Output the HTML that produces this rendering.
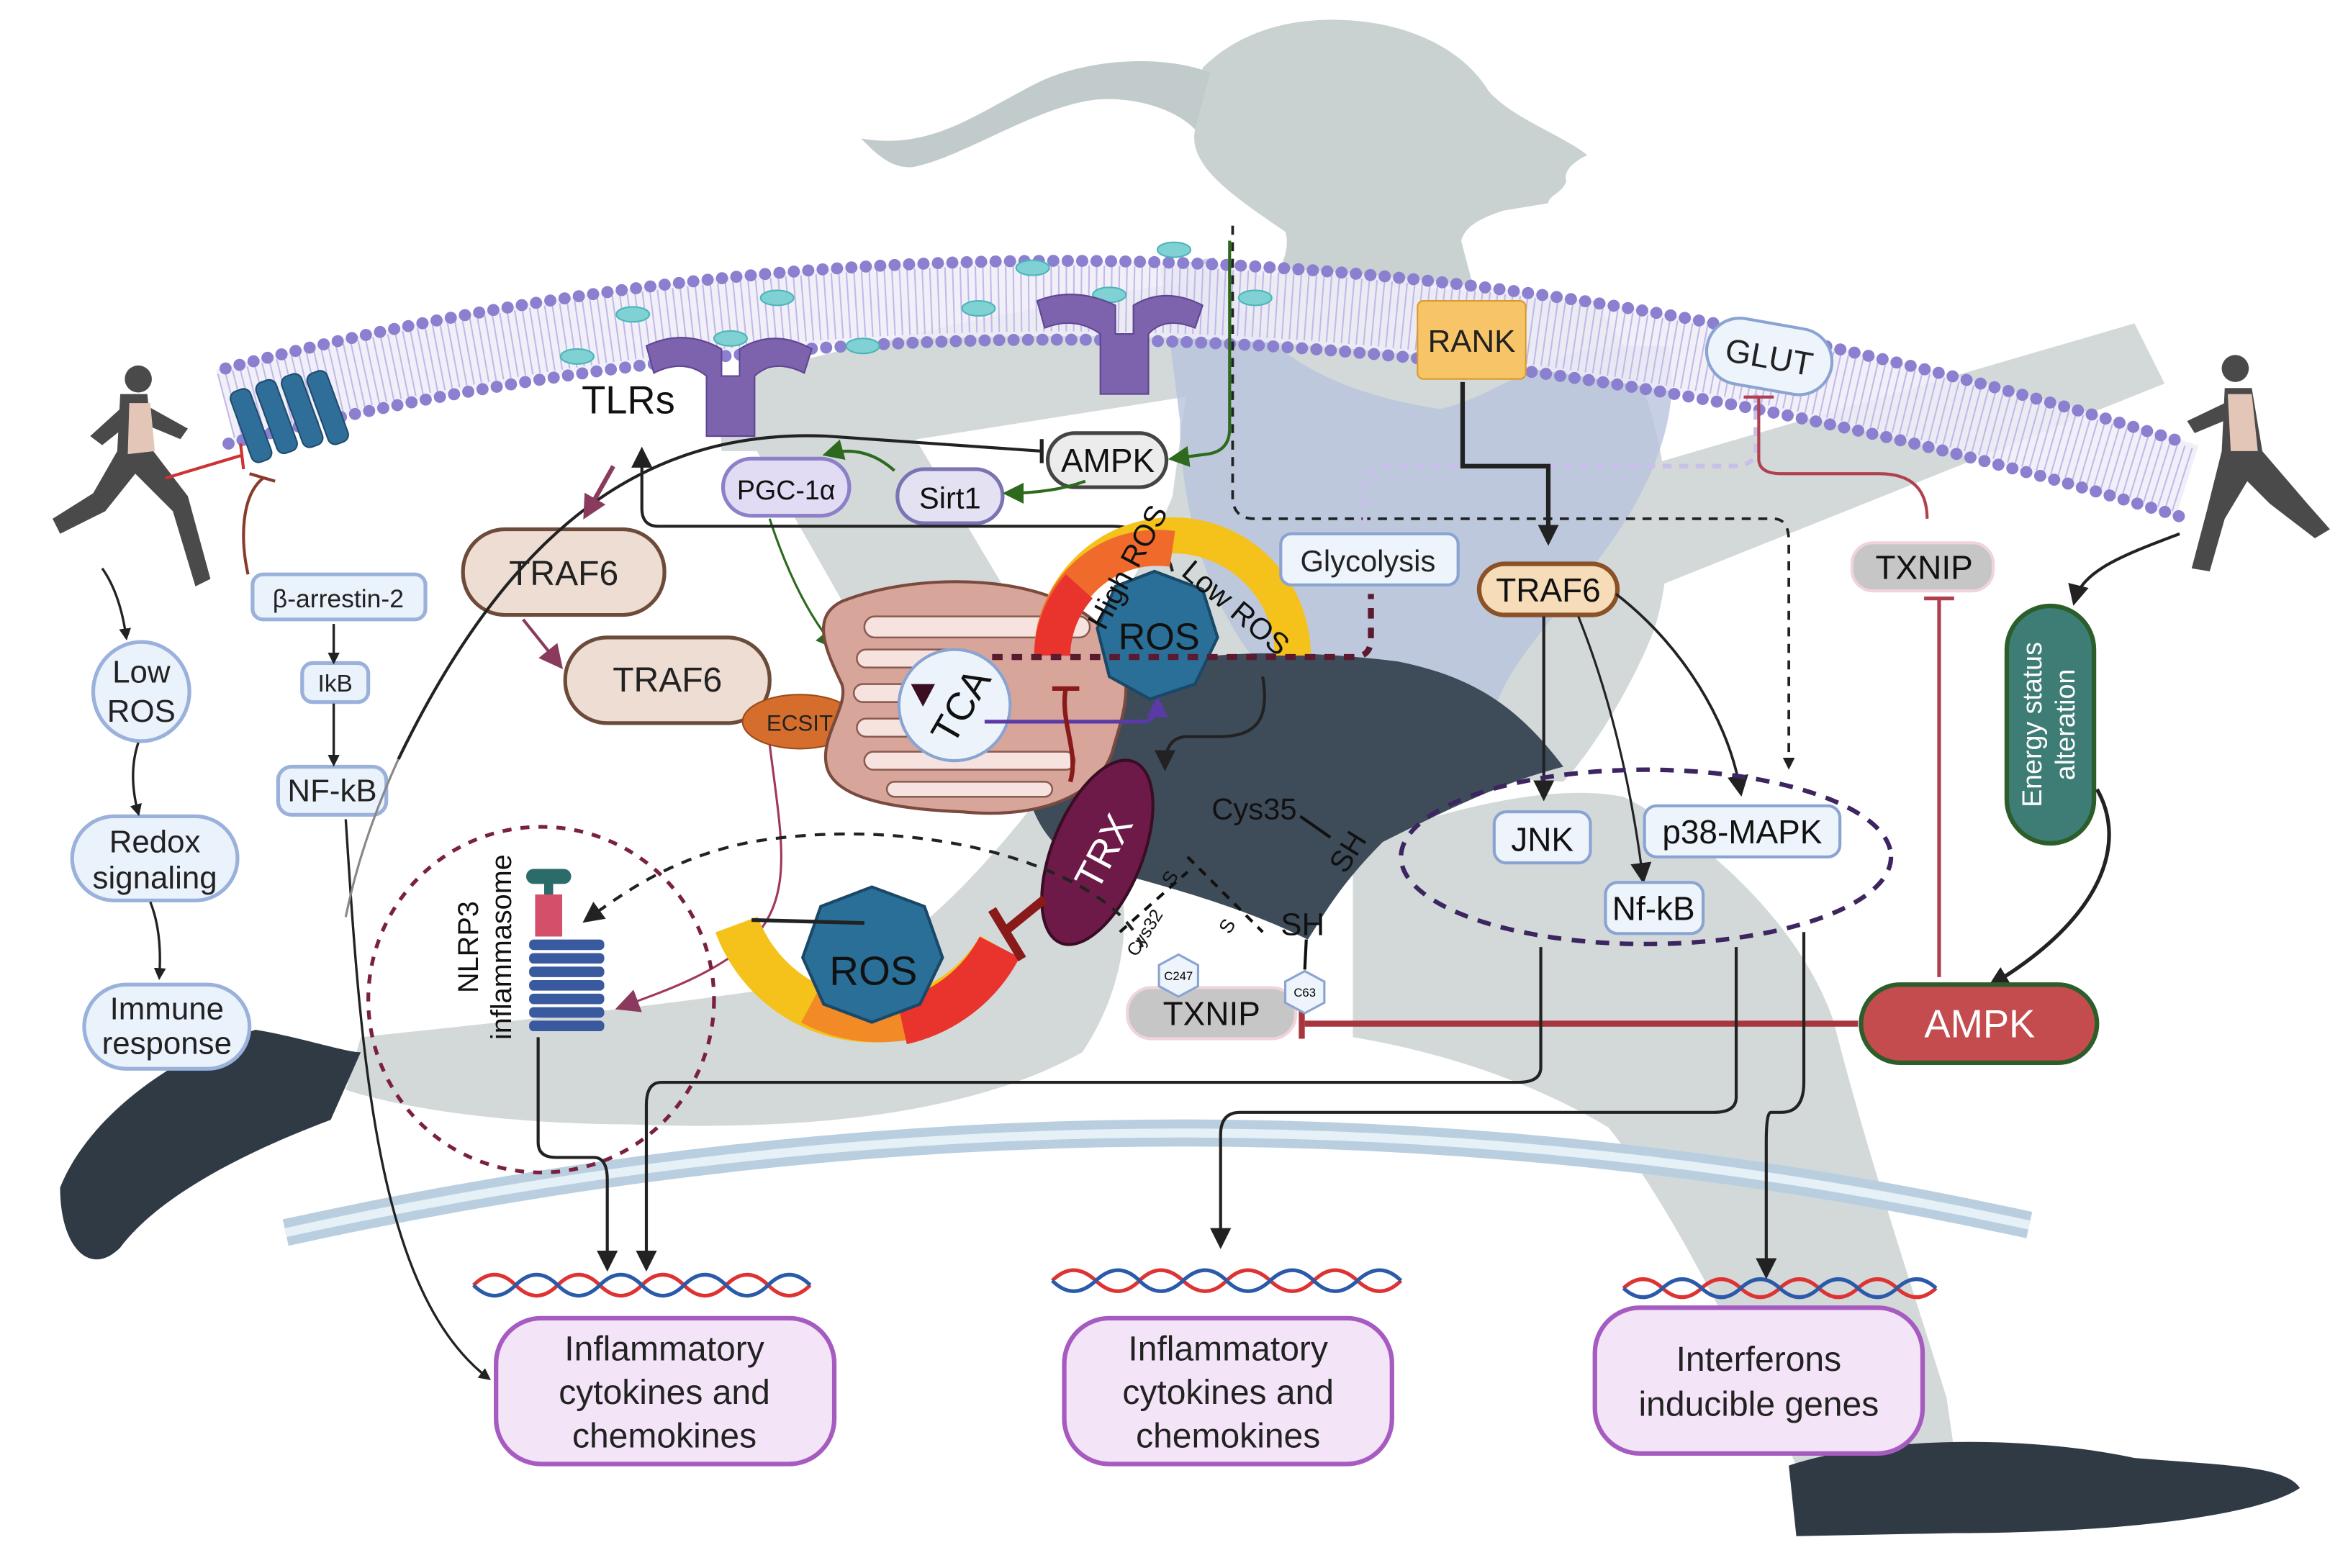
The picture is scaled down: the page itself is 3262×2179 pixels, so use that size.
<!DOCTYPE html>
<html><head><meta charset="utf-8"><style>
html,body{margin:0;padding:0;background:#fff;}
svg{display:block;}
text{font-family:"Liberation Sans",sans-serif;}
</style></head><body>
<svg width="3262" height="2179" viewBox="0 0 1562 1043" xmlns="http://www.w3.org/2000/svg">
<defs>
<marker id="ak" markerWidth="8" markerHeight="8" refX="6" refY="4" orient="auto" markerUnits="userSpaceOnUse"><path d="M0,0 L8,4 L0,8 Z" fill="#222"/></marker>
<marker id="akb" markerWidth="14" markerHeight="14" refX="11" refY="7" orient="auto" markerUnits="userSpaceOnUse"><path d="M0,0 L14,7 L0,14 Z" fill="#222"/></marker>
<marker id="ag" markerWidth="14" markerHeight="14" refX="11" refY="7" orient="auto" markerUnits="userSpaceOnUse"><path d="M0,0 L14,7 L0,14 Z" fill="#2d6a1e"/></marker>
<marker id="am" markerWidth="16" markerHeight="16" refX="12" refY="8" orient="auto" markerUnits="userSpaceOnUse"><path d="M0,0 L16,8 L0,16 Z" fill="#8a3a5c"/></marker>
<marker id="ap" markerWidth="14" markerHeight="14" refX="11" refY="7" orient="auto" markerUnits="userSpaceOnUse"><path d="M0,0 L14,7 L0,14 Z" fill="#5b3aa8"/></marker>
</defs>
<rect width="1562" height="1043" fill="#fff"/>

<!-- runner silhouette -->
<g fill="#d3d9d9">
<path d="M800,45 C820,25 850,12 890,13 C940,14 975,35 990,60 C1005,78 1040,90 1056,103 C1045,108 1040,115 1042,120 C1040,128 1030,130 1030,135 L1000,140 C985,145 975,150 972,160 L980,190 L845,190 C855,175 858,162 855,154 C820,130 790,110 795,86 C796,70 798,55 800,45 Z" fill="#c9d1d1"/>
<path d="M805,48 C770,35 720,40 690,55 C650,75 620,100 573,92 C585,105 595,112 607,111 C640,105 690,70 730,66 C760,64 785,75 795,86 Z" fill="#c1cbcb"/>
<path d="M800,180 L1060,200 C1110,260 1120,360 1100,420 C1080,470 1050,510 1040,520 L700,500 C720,440 760,380 780,330 Z"/>
<path d="M835,180 L845,255 L560,300 L480,300 L478,255 C560,230 700,200 835,180 Z"/>
<path d="M495,285 L605,285 L715,470 L620,505 Z"/>
<path d="M1060,320 L1420,215 L1440,255 L1090,395 Z"/>
<path d="M700,520 C760,560 760,640 720,700 C640,745 520,752 420,748 C340,748 270,738 230,725 L240,690 C330,680 460,668 560,650 C620,620 660,570 700,520 Z"/>
<path d="M900,560 C960,540 1030,520 1080,530 C1140,560 1200,620 1220,680 C1240,760 1270,850 1295,930 L1300,965 L1195,975 C1150,880 1110,800 1070,750 C1020,720 960,700 900,690 Z"/>
</g>
<path d="M772,178 L808,171 C830,230 880,260 958,272 C1000,262 1030,230 1080,230 L1110,230 C1120,280 1095,330 1065,370 C1035,410 1005,440 995,470 L840,445 C800,400 785,330 785,280 Z" fill="#b8c3dc" opacity="0.8"/>
<path d="M690,470 C760,430 850,430 930,440 C980,450 1010,470 1040,510 C1000,520 960,540 920,560 C890,590 880,610 870,625 C830,605 780,590 720,575 C690,560 670,520 690,470 Z" fill="#3e4c5a"/>
<path d="M40,790 C60,740 120,700 170,685 C200,690 230,700 240,700 L220,745 C180,760 110,790 80,830 C60,850 40,830 40,790 Z" fill="#2f3a44"/>
<path d="M1190,975 C1250,955 1350,955 1420,970 C1480,975 1520,975 1530,990 C1500,1010 1400,1020 1300,1020 L1195,1022 Z" fill="#2f3a44"/>

<path d="M190,820 Q780,690 1350,815" fill="none" stroke="#b9cfe0" stroke-width="18"/>
<path d="M190,820 Q780,690 1350,815" fill="none" stroke="#e6f0f7" stroke-width="6"/>

<path d="M150,270 Q780,105 1455,320" fill="none" stroke="#efedf8" stroke-width="50" opacity="0.85"/>
<path d="M150,270 Q780,105 1455,320" fill="none" stroke="#c3b9e8" stroke-width="44" stroke-dasharray="1 4"/>
<path d="M150,245 Q780,80 1455,295" fill="none" stroke="#8b7fcf" stroke-width="8" stroke-dasharray="0.1 9.5" stroke-linecap="round"/>
<path d="M152,295 Q780,135 1455,345" fill="none" stroke="#8b7fcf" stroke-width="8" stroke-dasharray="0.1 9.5" stroke-linecap="round"/>

<g fill="#7fd1d4" stroke="#4cb5b8">
<ellipse cx="421" cy="209" rx="11" ry="5"/><ellipse cx="517" cy="198" rx="11" ry="5"/><ellipse cx="687" cy="178" rx="11" ry="5"/><ellipse cx="781" cy="166" rx="11" ry="5"/><ellipse cx="384" cy="237" rx="11" ry="5"/><ellipse cx="486" cy="225" rx="11" ry="5"/><ellipse cx="574" cy="230" rx="11" ry="5"/><ellipse cx="651" cy="205" rx="11" ry="5"/><ellipse cx="738" cy="196" rx="11" ry="5"/><ellipse cx="835" cy="198" rx="11" ry="5"/>
</g>
<g fill="#7d62ad" stroke="#5e4690">
<path d="M430,230 Q455,218 480,232 L480,250 L492,250 L492,232 Q515,218 540,232 L535,248 Q515,238 502,250 L502,290 L470,290 L470,250 Q455,238 435,248 Z"/>
<path d="M690,200 Q715,190 742,203 L742,222 L754,222 L754,203 Q775,190 800,203 L795,218 Q775,210 764,222 L764,262 L732,262 L732,222 Q715,210 695,218 Z"/>
</g>
<g fill="#2f6e99" stroke="#1d4c6e"><rect x="160" y="258" width="14" height="50" rx="5" transform="rotate(-20 167 283)"/><rect x="177" y="252" width="14" height="50" rx="5" transform="rotate(-20 184 277)"/><rect x="194" y="248" width="14" height="50" rx="5" transform="rotate(-20 201 273)"/><rect x="211" y="246" width="14" height="50" rx="5" transform="rotate(-20 218 271)"/></g>

<g fill="#4a4a4a">
<circle cx="92" cy="252" r="9"/><path d="M80,262 L98,262 L102,300 L125,330 L140,385 L130,390 L115,340 L90,315 L70,340 L40,355 L35,345 L62,328 L78,300 Z"/><path d="M82,270 L60,290 L68,296 L88,280 Z M98,270 L125,285 L120,292 L96,282 Z"/>
<circle cx="1487" cy="245" r="9"/><path d="M1480,258 L1498,258 L1505,300 L1535,335 L1550,352 L1540,358 L1510,335 L1495,320 L1480,345 L1470,380 L1458,378 L1468,340 L1478,300 Z"/><path d="M1480,268 L1455,280 L1460,288 L1484,278 Z"/>
</g>
<path d="M86,268 L100,268 L103,300 L85,302 Z" fill="#e3c6b8"/>
<path d="M1482,262 L1498,262 L1502,300 L1484,300 Z" fill="#e3c6b8"/>

<rect x="943" y="200" width="72" height="52" rx="4" fill="#f7c468" stroke="#d89a2a"/>
<text x="979" y="234" font-size="21" text-anchor="middle" fill="#222">RANK</text>
<rect x="1135" y="215" width="84" height="44" rx="22" fill="#eef4fb" stroke="#8aa4d2" stroke-width="2" transform="rotate(10 1177 237)"/>
<text x="1177" y="245" font-size="22" text-anchor="middle" fill="#222" transform="rotate(10 1177 237)">GLUT</text>

<g fill="none" stroke-width="2.5">
<path d="M315,855 q14,-14 28,0 t28,0 t28,0 t28,0 t28,0 t28,0 t28,0 t28,0" stroke="#d33"/>
<path d="M315,855 q14,14 28,0 t28,0 t28,0 t28,0 t28,0 t28,0 t28,0 t28,0" stroke="#2a5aa8"/>
<path d="M700,852 q14,-14 29,0 t29,0 t29,0 t29,0 t29,0 t29,0 t29,0 t29,0" stroke="#d33"/>
<path d="M700,852 q14,14 29,0 t29,0 t29,0 t29,0 t29,0 t29,0 t29,0 t29,0" stroke="#2a5aa8"/>
<path d="M1080,857 q13,-12 26,0 t26,0 t26,0 t26,0 t26,0 t26,0 t26,0 t26,0" stroke="#d33"/>
<path d="M1080,857 q13,12 26,0 t26,0 t26,0 t26,0 t26,0 t26,0 t26,0 t26,0" stroke="#2a5aa8"/>
</g>

<g fill="#f3e4f8" stroke="#a65bc0" stroke-width="3">
<rect x="330" y="877" width="225" height="97" rx="30"/>
<rect x="708" y="877" width="218" height="97" rx="30"/>
<rect x="1061" y="870" width="218" height="97" rx="30"/>
</g>
<g font-size="23" text-anchor="middle" fill="#222">
<text x="442" y="905">Inflammatory</text><text x="442" y="934">cytokines and</text><text x="442" y="963">chemokines</text>
<text x="817" y="905">Inflammatory</text><text x="817" y="934">cytokines and</text><text x="817" y="963">chemokines</text>
<text x="1170" y="912">Interferons</text><text x="1170" y="942">inducible genes</text>
</g>

<g fill="#eaf2fb" stroke="#9ab1db" stroke-width="2.5">
<ellipse cx="94" cy="460" rx="32" ry="33"/>
<rect x="48" y="543" width="110" height="56" rx="28"/>
<rect x="56" y="655" width="110" height="56" rx="28"/>
<rect x="168" y="382" width="115" height="30" rx="7"/>
<rect x="201" y="441" width="44" height="26" rx="7"/>
<rect x="185" y="510" width="72" height="32" rx="9"/>
</g>
<g font-size="21" text-anchor="middle" fill="#222">
<text x="94" y="454">Low</text><text x="94" y="480">ROS</text>
<text x="103" y="567">Redox</text><text x="103" y="591">signaling</text>
<text x="111" y="678">Immune</text><text x="111" y="701">response</text>
<text x="225" y="404" font-size="17">β-arrestin-2</text>
<text x="223" y="460" font-size="16">IkB</text>
<text x="221" y="533" font-size="21">NF-kB</text>
</g>
<g stroke="#222" stroke-width="1.6" fill="none" marker-end="url(#ak)">
<path d="M68,378 Q80,395 84,424"/><path d="M92,494 Q85,515 92,541"/><path d="M100,600 Q108,620 106,650"/>
<path d="M222,415 L222,440"/><path d="M222,468 L222,508"/>
<path d="M230,545 C240,700 250,860 325,917"/>
</g>
<path d="M110,318 L160,303 M160,295 L162,312" stroke="#c33" stroke-width="2"/>
<path d="M165,382 C160,360 160,330 175,318 M166,315 L183,320" stroke="#8a3a2a" stroke-width="2" fill="none"/>

<text x="418" y="275" font-size="26" fill="#111" text-anchor="middle">TLRs</text>
<rect x="697" y="288" width="79" height="36" rx="18" fill="#ececec" stroke="#444" stroke-width="2.5"/>
<text x="737" y="314" font-size="22" text-anchor="middle" fill="#111">AMPK</text>
<rect x="597" y="312" width="70" height="36" rx="18" fill="#e3e1f2" stroke="#7a74b3" stroke-width="2.5"/>
<text x="632" y="338" font-size="20" text-anchor="middle" fill="#111">Sirt1</text>
<rect x="481" y="305" width="84" height="38" rx="19" fill="#e1dcf4" stroke="#8c80c8" stroke-width="2.5"/>
<text x="523" y="332" font-size="18" text-anchor="middle" fill="#111">PGC-1α</text>
<rect x="308" y="352" width="134" height="57" rx="28" fill="#eeddd3" stroke="#6d4b3a" stroke-width="2.5"/>
<text x="375" y="389" font-size="23" text-anchor="middle" fill="#222">TRAF6</text>
<rect x="376" y="424" width="136" height="57" rx="28" fill="#eeddd3" stroke="#6d4b3a" stroke-width="2.5"/>
<text x="444" y="460" font-size="23" text-anchor="middle" fill="#222">TRAF6</text>
<ellipse cx="532" cy="480" rx="38" ry="18" fill="#d56e2c" stroke="#9b4a18"/>
<text x="532" y="486" font-size="15" text-anchor="middle" fill="#222">ECSIT</text>

<path d="M818,160 L818,285 Q818,300 803,302 L780,305" stroke="#2d6a1e" stroke-width="2" fill="none" marker-end="url(#ag)"/>
<path d="M820,150 L820,330 Q820,345 835,345 L1180,345 Q1190,345 1190,360 L1190,510" stroke="#222" stroke-width="1.8" stroke-dasharray="6 5" fill="none" marker-end="url(#ak)"/>
<path d="M722,320 Q700,328 670,328" stroke="#2d6a1e" stroke-width="2" fill="none" marker-end="url(#ag)"/>
<path d="M595,313 Q575,295 550,302" stroke="#2d6a1e" stroke-width="2" fill="none" marker-end="url(#ag)"/>
<path d="M512,345 Q530,400 555,430" stroke="#2d6a1e" stroke-width="1.5" fill="none" marker-end="url(#ag)"/>
<path d="M693,300 L550,290 C430,285 340,350 265,505" stroke="#222" stroke-width="2" fill="none"/>
<path d="M693,292 L693,308" stroke="#222" stroke-width="2.5"/>
<path d="M265,505 C240,560 232,600 230,610" stroke="#888" stroke-width="1.5" fill="none"/>
<path d="M780,380 C775,360 760,350 740,350 L438,350 Q427,350 427,338 L427,300" stroke="#222" stroke-width="2" fill="none" marker-end="url(#akb)"/>
<path d="M408,310 L390,342" stroke="#8a3a5c" stroke-width="3" marker-end="url(#am)"/>
<path d="M348,412 L372,442" stroke="#8a3a5c" stroke-width="2" marker-end="url(#am)"/>
<path d="M512,495 C520,560 530,600 495,630 C470,650 440,660 413,670" stroke="#a0385c" stroke-width="1.5" fill="none" marker-end="url(#am)"/>

<path d="M560,400 C610,380 700,380 735,420 C760,450 745,480 740,500 C730,530 690,545 640,540 C590,538 555,530 550,510 C545,490 565,470 560,455 C548,430 540,410 560,400 Z" fill="#d7a59a" stroke="#7a4a3e" stroke-width="2"/>
<g fill="#f6e3df" stroke="#8a5a4e" stroke-width="1.2">
<rect x="575" y="410" width="150" height="14" rx="7"/><rect x="570" y="432" width="70" height="12" rx="6"/><rect x="568" y="455" width="60" height="12" rx="6"/><rect x="570" y="478" width="65" height="12" rx="6"/><rect x="575" y="500" width="140" height="12" rx="6"/><rect x="590" y="520" width="110" height="10" rx="5"/>
</g>
<circle cx="635" cy="469" r="37" fill="#edf3fb" stroke="#8aa4d2" stroke-width="2"/>
<text x="640" y="478" font-size="26" text-anchor="middle" fill="#111" transform="rotate(-60 640 470)">TCA</text>
<path d="M606,455 L622,455 L614,470 Z" fill="#3a0d20"/>
<path d="M655,480 L760,480 Q770,480 770,466" stroke="#5b3aa8" stroke-width="2.5" fill="none" marker-end="url(#ap)"/>

<path d="M700,436 A70,70 0 0 1 860,436" fill="none" stroke="#f5c11b" stroke-width="24"/>
<path d="M700,436 A70,70 0 0 1 780,365" fill="none" stroke="#f06a2c" stroke-width="24"/>
<path d="M700,436 A70,70 0 0 1 718,390" fill="none" stroke="#e8342c" stroke-width="24"/>
<polygon points="768,380 800,392 810,424 795,455 765,465 738,450 730,418 742,390" fill="#2a6f98" stroke="#1a4868" stroke-width="2"/>
<text x="771" y="432" font-size="25" text-anchor="middle" fill="#111">ROS</text>
<text x="735" y="420" font-size="20" fill="#111" transform="rotate(-62 735 420)">High ROS</text>
<text x="785" y="382" font-size="20" fill="#111" transform="rotate(40 785 382)">Low ROS</text>
<path d="M660,437 L900,437 Q912,437 912,425 L912,395" stroke="#5a1a30" stroke-width="4" stroke-dasharray="7 6" fill="none"/>
<path d="M700,458 L718,458 M709,458 C705,480 718,500 712,520" stroke="#8a1a1a" stroke-width="3" fill="none"/>

<rect x="852" y="355" width="118" height="34" rx="7" fill="#eef4fb" stroke="#8aa4d2" stroke-width="2"/>
<text x="910" y="380" font-size="20" text-anchor="middle" fill="#222">Glycolysis</text>
<path d="M1168,262 L1168,300 Q1168,310 1150,310 L920,310 Q908,310 908,325 L908,350" stroke="#c8c0ea" stroke-width="3" stroke-dasharray="6 5" fill="none"/>
<path d="M1160,264 L1180,264 M1170,264 L1170,305 Q1170,315 1185,315 L1250,315 Q1282,315 1282,345" stroke="#b04050" stroke-width="2" fill="none"/>

<path d="M973,254 L973,310 L1030,310 L1030,360" stroke="#222" stroke-width="3" fill="none" marker-end="url(#akb)"/>
<rect x="984" y="375" width="92" height="34" rx="17" fill="#f6dcb8" stroke="#8a5226" stroke-width="3"/>
<text x="1030" y="400" font-size="22" text-anchor="middle" fill="#111">TRAF6</text>
<path d="M1027,410 L1027,530" stroke="#222" stroke-width="2" fill="none" marker-end="url(#akb)"/>
<path d="M1050,410 C1070,460 1085,520 1093,585" stroke="#222" stroke-width="1.5" fill="none" marker-end="url(#akb)"/>
<path d="M1075,395 C1120,430 1150,480 1158,527" stroke="#222" stroke-width="1.8" fill="none" marker-end="url(#akb)"/>

<ellipse cx="1095" cy="570" rx="163" ry="58" fill="none" stroke="#3d2560" stroke-width="3" stroke-dasharray="9 7"/>
<g fill="#eef4fb" stroke="#8aa4d2" stroke-width="2">
<rect x="994" y="540" width="64" height="34" rx="8"/><rect x="1094" y="536" width="130" height="34" rx="8"/><rect x="1068" y="587" width="65" height="34" rx="8"/>
</g>
<g font-size="22" text-anchor="middle" fill="#111"><text x="1026" y="566">JNK</text><text x="1159" y="561">p38-MAPK</text><text x="1100" y="612">Nf-kB</text></g>

<rect x="1232" y="361" width="94" height="32" rx="14" fill="#c6c6c6" stroke="#f0d4da" stroke-width="2"/>
<text x="1280" y="385" font-size="22" text-anchor="middle" fill="#111">TXNIP</text>
<path d="M1290,398 L1290,650 M1280,398 L1300,398" stroke="#b04050" stroke-width="2.5"/>
<rect x="1335" y="403" width="58" height="158" rx="29" fill="#3e7c76" stroke="#2b5e2a" stroke-width="3"/>
<text x="1364" y="482" font-size="18" text-anchor="middle" fill="#fff" transform="rotate(-90 1364 482)"><tspan x="1364" dy="-6">Energy status</tspan><tspan x="1364" dy="22">alteration</tspan></text>
<path d="M1450,355 C1410,370 1385,380 1380,400" stroke="#222" stroke-width="2" fill="none" marker-end="url(#akb)"/>
<path d="M1395,525 C1415,560 1400,610 1325,655" stroke="#222" stroke-width="2.5" fill="none" marker-end="url(#akb)"/>
<rect x="1238" y="655" width="157" height="52" rx="26" fill="#c44c4f" stroke="#2b5e2a" stroke-width="3"/>
<text x="1317" y="690" font-size="26" text-anchor="middle" fill="#fff">AMPK</text>
<path d="M1236,681 L868,681" stroke="#a8363f" stroke-width="4"/>
<path d="M866,671 L866,691" stroke="#a8363f" stroke-width="4"/>

<ellipse cx="730" cy="567" rx="30" ry="65" fill="#6e1a48" stroke="#3a0d24" stroke-width="2" transform="rotate(22 730 567)"/>
<text x="735" y="575" font-size="26" text-anchor="middle" fill="#fff" transform="rotate(-62 735 567)">TRX</text>
<path d="M840,450 C845,480 835,490 810,490 L790,490 Q775,490 775,510" stroke="#222" stroke-width="2" fill="none" marker-end="url(#akb)"/>
<text x="806" y="545" font-size="20" fill="#111">Cys35</text>
<path d="M865,543 L885,557" stroke="#111" stroke-width="2"/>
<text x="895" y="582" font-size="20" fill="#111" transform="rotate(-58 895 582)">SH</text>
<text x="852" y="622" font-size="21" fill="#111">SH</text>
<path d="M869,625 L868,645" stroke="#111" stroke-width="2"/>
<path d="M745,620 L790,580 M790,570 L840,620" stroke="#111" stroke-width="2" stroke-dasharray="6 5"/>
<text x="780" y="590" font-size="13" fill="#111" transform="rotate(-60 780 590)">S</text>
<text x="818" y="622" font-size="13" fill="#111" transform="rotate(-60 818 622)">S</text>
<text x="756" y="637" font-size="12" fill="#111" transform="rotate(-58 756 637)">Cys32</text>
<rect x="750" y="657" width="112" height="34" rx="16" fill="#c6c6c6" stroke="#f0d4da" stroke-width="2"/>
<text x="806" y="682" font-size="22" text-anchor="middle" fill="#111">TXNIP</text>
<polygon points="784,635 797,642 797,656 784,663 771,656 771,642" fill="#eef4fb" stroke="#8aa4d2" stroke-width="1.5"/>
<text x="784" y="652" font-size="8" text-anchor="middle">C247</text>
<polygon points="868,646 881,653 881,667 868,674 855,667 855,653" fill="#eef4fb" stroke="#8aa4d2" stroke-width="1.5"/>
<text x="868" y="663" font-size="8" text-anchor="middle">C63</text>

<path d="M490,615 A97,97 0 0 0 665,630" fill="none" stroke="#f5c11b" stroke-width="30"/>
<path d="M540,667 A97,97 0 0 0 620,672" fill="none" stroke="#f28a26" stroke-width="30"/>
<path d="M600,680 A97,97 0 0 0 665,630" fill="none" stroke="#e8342c" stroke-width="30"/>
<polygon points="580,590 615,603 627,637 612,668 580,680 548,668 534,637 546,603" fill="#2a6f98" stroke="#1a4868" stroke-width="2"/>
<text x="581" y="655" font-size="27" text-anchor="middle" fill="#111">ROS</text>
<path d="M500,612 L575,614" stroke="#222" stroke-width="2.5"/>
<path d="M668,620 L695,598 M660,605 L680,638" stroke="#8a1a1a" stroke-width="6"/>
<path d="M760,630 C740,580 620,540 500,560 C450,570 420,590 390,612" stroke="#222" stroke-width="2" stroke-dasharray="7 6" fill="none" marker-end="url(#akb)"/>

<circle cx="360" cy="665" r="115" fill="none" stroke="#7a2040" stroke-width="2.5" stroke-dasharray="6 6"/>
<rect x="350" y="578" width="30" height="10" rx="5" fill="#2b6c6a"/>
<rect x="362" y="585" width="6" height="12" fill="#2b6c6a"/>
<rect x="356" y="595" width="18" height="28" fill="#d4506a"/>
<g fill="#3a5aa0">
<rect x="352" y="625" width="50" height="7" rx="3"/><rect x="352" y="634" width="50" height="7" rx="3"/><rect x="352" y="643" width="50" height="7" rx="3"/><rect x="352" y="652" width="50" height="7" rx="3"/><rect x="352" y="661" width="50" height="7" rx="3"/><rect x="352" y="670" width="50" height="7" rx="3"/><rect x="352" y="679" width="50" height="7" rx="3"/>
</g>
<text x="322" y="630" font-size="19" text-anchor="middle" fill="#111" transform="rotate(-90 322 630)"><tspan x="322" dy="-4">NLRP3</tspan><tspan x="322" dy="22">inflammasome</tspan></text>

<g stroke="#222" stroke-width="2" fill="none" marker-end="url(#akb)">
<path d="M358,690 L358,760 Q358,770 370,770 L395,770 Q404,770 404,785 L404,843"/>
<path d="M1025,630 L1025,710 Q1025,720 1010,720 L440,720 Q430,720 430,735 L430,843"/>
<path d="M1155,630 L1155,730 Q1155,740 1140,740 L825,740 Q812,740 812,755 L812,828"/>
<path d="M1200,620 L1200,720 Q1200,740 1185,740 L1178,740 Q1175,740 1175,760 L1175,848"/>
</g>
</svg>
</body></html>
